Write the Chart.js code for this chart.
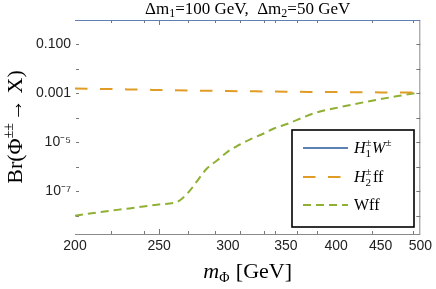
<!DOCTYPE html>
<html>
<head>
<meta charset="utf-8">
<script src="https://cdn.jsdelivr.net/npm/chart.js@4"></script>
<style>
  html, body { margin: 0; padding: 0; background: #fff; }
  #wrap { width: 436px; height: 289px; }
</style>
</head>
<body>
<div id="wrap"><canvas id="chart" width="436" height="289"></canvas></div>
<script>
// Branching ratios (log-log plot)
const massH1 = [200, 300, 400, 500];
const brH1 = [0.998, 0.998, 0.998, 0.998];

const massH2 = [200, 225, 250, 275, 300, 350, 400, 450, 500];
const brH2 = [1.6e-3, 1.48e-3, 1.38e-3, 1.3e-3, 1.25e-3, 1.18e-3, 1.13e-3, 1.1e-3, 1.08e-3];

const massWff = [200, 214, 231, 250, 257, 262, 266, 272, 278, 284, 292, 300, 309, 318, 330, 339, 351, 360, 378, 405, 438, 471, 500];
const brWff = [1.0e-8, 1.43e-8, 2.0e-8, 2.9e-8, 3.2e-8, 3.6e-8, 5.2e-8, 1.2e-7, 3.4e-7, 8.7e-7, 1.9e-6, 4.2e-6, 7.8e-6, 1.3e-5, 2.3e-5, 3.7e-5, 5.6e-5, 8.1e-5, 1.58e-4, 2.8e-4, 4.9e-4, 7.8e-4, 1.1e-3];

// Axis ticks
const xTickLabels = [200, 250, 300, 350, 400, 450, 500];
const xMinorTicks = [220, 240, 270, 290, 310, 330, 340, 360, 380, 440, 490];
const yTickValues = [1e-8, 1e-7, 1e-6, 1e-5, 1e-4, 1e-3, 1e-2, 1e-1];
const yTickLabels = ['', '10⁻⁷', '', '10⁻⁵', '', '0.001', '', '0.100'];

const blue = '#5E81B5';
const orange = '#E09C24';
const green = '#8FB032';
const serif = '"Liberation Serif", "DejaVu Serif", serif';
const sans = '"Liberation Sans", Arial, sans-serif';

function pts(xs, ys) {
    return xs.map((x, i) => ({ x: x, y: ys[i] }));
}

// Draw a run of text pieces: [text, font, dy, extraSpace]
function drawPieces(ctx, pieces, x, y) {
    let cx = x;
    pieces.forEach(p => {
        ctx.font = p[1];
        ctx.fillText(p[0], cx, y + (p[2] || 0));
        cx += ctx.measureText(p[0]).width + (p[3] || 0);
    });
    return cx;
}
function piecesWidth(ctx, pieces) {
    let w = 0;
    pieces.forEach(p => { ctx.font = p[1]; w += ctx.measureText(p[0]).width + (p[3] || 0); });
    return w;
}

// Frame, inward tick marks, titles and the boxed legend
const framePlugin = {
    id: 'frame',
    beforeDatasetsDraw(chart) {
        const { ctx, chartArea: a, scales } = chart;
        ctx.save();
        ctx.strokeStyle = '#8a8a8a';
        ctx.lineWidth = 1;
        ctx.beginPath();
        ctx.moveTo(a.left, a.bottom + 0.5);
        ctx.lineTo(a.right, a.bottom + 0.5);
        ctx.moveTo(a.right - 0.5, a.top);
        ctx.lineTo(a.right - 0.5, a.bottom);
        ctx.stroke();

        ctx.strokeStyle = '#777';
        ctx.beginPath();
        const xt = xMinorTicks.map(v => [v, 3]).concat([[250, 5]]);
        xt.forEach(t => {
            const px = Math.round(scales.x.getPixelForValue(t[0])) + 0.5;
            ctx.moveTo(px, a.bottom);
            ctx.lineTo(px, a.bottom - t[1]);
            ctx.moveTo(px, a.top);
            ctx.lineTo(px, a.top + t[1]);
        });
        yTickValues.forEach(v => {
            const py = Math.round(scales.y.getPixelForValue(v)) + 0.5;
            ctx.moveTo(a.left + 1, py);
            ctx.lineTo(a.left + 4, py);
            ctx.moveTo(a.right, py);
            ctx.lineTo(a.right - 4, py);
        });
        ctx.stroke();
        ctx.restore();
    },
    afterDraw(chart) {
        const { ctx, chartArea: a } = chart;
        const cx = (a.left + a.right) / 2;
        ctx.save();
        ctx.fillStyle = '#000';
        ctx.textBaseline = 'alphabetic';

        // Title
        const f = '17px ' + serif, fs = '12px ' + serif;
        const title = [['Δm', f], ['1', fs, 3], ['=100 GeV,  Δm', f], ['2', fs, 3], ['=50 GeV', f]];
        drawPieces(ctx, title, cx - piecesWidth(ctx, title) / 2, 14);

        // x-axis title
        const xf = '22px ' + serif;
        const xTitle = [['m', 'italic ' + xf], ['Φ', '14px ' + serif, 4, 1], [' [GeV]', xf]];
        drawPieces(ctx, xTitle, cx - piecesWidth(ctx, xTitle) / 2, 278);

        // y-axis title, rotated
        ctx.save();
        ctx.translate(22, (a.top + a.bottom) / 2);
        ctx.rotate(-Math.PI / 2);
        const yf = '22px ' + serif;
        const yTitle = [['Br(Φ', yf], ['±±', '14px ' + serif, -9, 2], ['→ X)', yf]];
        drawPieces(ctx, yTitle, -piecesWidth(ctx, yTitle) / 2, 0);
        ctx.restore();

        // Legend box
        const bx = 292, by = 130, bw = 122, bh = 97;
        ctx.fillStyle = '#fff';
        ctx.fillRect(bx, by, bw, bh);
        ctx.strokeStyle = '#000';
        ctx.lineWidth = 1.6;
        ctx.strokeRect(bx, by, bw, bh);

        const rows = [
            { y: 148, color: blue, dash: [] },
            { y: 177, color: orange, dash: [12.5, 12.5] },
            { y: 205, color: green, dash: [8, 5] }
        ];
        rows.forEach(r => {
            ctx.strokeStyle = r.color;
            ctx.lineWidth = 2;
            ctx.setLineDash(r.dash);
            ctx.beginPath();
            ctx.moveTo(303, r.y);
            ctx.lineTo(348, r.y);
            ctx.stroke();
        });
        ctx.setLineDash([]);
        ctx.fillStyle = '#000';
        const lf = '16px ' + serif, lfi = 'italic 16px ' + serif, small = '11px ' + serif;
        // H1± W±
        let x = drawPieces(ctx, [['H', lfi]], 354, 153);
        drawPieces(ctx, [['±', small]], x, 146);
        x = drawPieces(ctx, [['1', small]], x, 157);
        x = drawPieces(ctx, [['W', lfi]], x + 1, 153);
        drawPieces(ctx, [['±', small]], x, 146);
        // H2± ff
        x = drawPieces(ctx, [['H', lfi]], 354, 182);
        drawPieces(ctx, [['±', small]], x, 175);
        x = drawPieces(ctx, [['2', small]], x, 186);
        drawPieces(ctx, [['ff', lf]], x + 2, 182);
        // Wff
        drawPieces(ctx, [['Wff', lf]], 354, 210);
        ctx.restore();
    }
};

const ctx = document.getElementById('chart').getContext('2d');
new Chart(ctx, {
    type: 'line',
    data: {
        datasets: [
            { label: 'H1W', data: pts(massH1, brH1), borderColor: blue, borderWidth: 2 },
            { label: 'H2ff', data: pts(massH2, brH2), borderColor: orange, borderWidth: 2, borderDash: [12.5, 12.5] },
            { label: 'Wff', data: pts(massWff, brWff), borderColor: green, borderWidth: 2, borderDash: [8, 5] }
        ]
    },
    options: {
        responsive: false,
        animation: false,
        parsing: false,
        layout: { padding: { top: 20, right: 13, left: 0, bottom: 0 } },
        elements: {
            point: { radius: 0 },
            line: { cubicInterpolationMode: 'monotone', fill: false }
        },
        plugins: {
            legend: { display: false },
            title: { display: false },
            tooltip: { enabled: false }
        },
        scales: {
            x: {
                type: 'logarithmic',
                min: 200,
                max: 500,
                afterBuildTicks: s => { s.ticks = xTickLabels.map(v => ({ value: v })); },
                afterFit: s => { s.height = 55; },
                grid: { display: false, drawTicks: false },
                border: { display: false },
                ticks: {
                    autoSkip: false,
                    maxRotation: 0,
                    padding: 4,
                    color: '#222',
                    font: { family: sans, size: 14 },
                    callback: v => String(v)
                }
            },
            y: {
                type: 'logarithmic',
                min: 1.8e-9,
                max: 1,
                afterBuildTicks: s => { s.ticks = yTickValues.map(v => ({ value: v })); },
                afterFit: s => { s.width = 75; },
                grid: { display: false, drawTicks: false },
                border: { display: false },
                ticks: {
                    autoSkip: false,
                    padding: 4,
                    color: '#222',
                    font: { family: sans, size: 14 },
                    callback: (v, i) => yTickLabels[i]
                }
            }
        }
    },
    plugins: [framePlugin]
});
</script>
</body>
</html>
